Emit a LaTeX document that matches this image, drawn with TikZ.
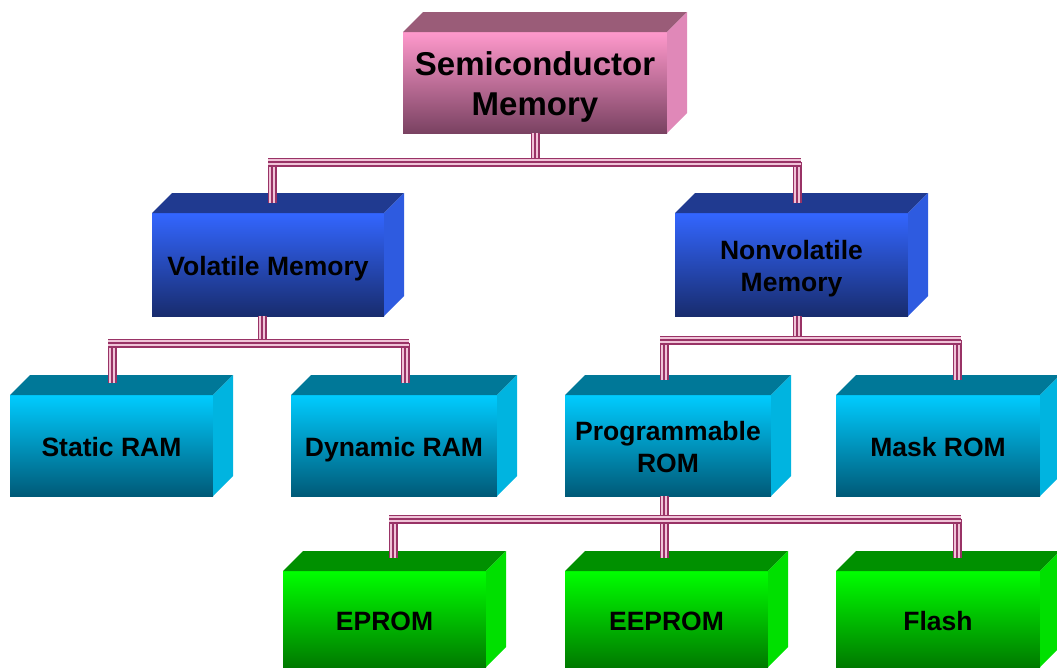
\documentclass[tikz,border=0pt]{standalone}
\usepackage{fontspec}
\setmainfont{Liberation Sans}
\usetikzlibrary{calc}
\definecolor{busdark}{HTML}{993366}
\definecolor{buslight}{HTML}{F0C4D8}
\definecolor{pinkA}{HTML}{FF99CC}
\definecolor{pinkB}{HTML}{C46E9C}
\definecolor{pinkC}{HTML}{7A4262}
\definecolor{pinkTop}{HTML}{9A5C78}
\definecolor{pinkSide}{HTML}{E088B8}
\definecolor{blueA}{HTML}{3366FF}
\definecolor{blueB}{HTML}{2E5AE4}
\definecolor{blueC}{HTML}{182C6E}
\definecolor{blueTop}{HTML}{203A90}
\definecolor{blueSide}{HTML}{2E5BE0}
\definecolor{cyanA}{HTML}{00CCFF}
\definecolor{cyanB}{HTML}{00A0CC}
\definecolor{cyanC}{HTML}{005A78}
\definecolor{cyanTop}{HTML}{007898}
\definecolor{cyanSide}{HTML}{00B4E0}
\definecolor{greenA}{HTML}{00FF00}
\definecolor{greenB}{HTML}{00D000}
\definecolor{greenC}{HTML}{007A00}
\definecolor{greenTop}{HTML}{009000}
\definecolor{greenSide}{HTML}{00E000}
\newcommand\cubefaces[3]{%
  \fill[#2] (#1.north west) -- ++(20,-20) -- ($(#1.north east)+(20,-20)$) -- (#1.north east) -- cycle;
  \fill[#3] (#1.north east) -- ++(20,-20) -- ($(#1.south east)+(20,-20)$) -- (#1.south east) -- cycle;
}
\newcommand\boxtext[1]{\raisebox{-5pt}[\height][\depth]{\begin{tabular}{@{}c@{}}#1\end{tabular}}}
\tikzset{
  front/.style={inner sep=0, outer sep=0, font=\bfseries\fontsize{26.5}{32}\selectfont},
  pinkfront/.style={front, top color=pinkA, middle color=pinkB, bottom color=pinkC, font=\bfseries\fontsize{33}{40}\selectfont},
  bluefront/.style={front, top color=blueA, middle color=blueB, bottom color=blueC},
  cyanfront/.style={front, top color=cyanA, middle color=cyanB, bottom color=cyanC},
  greenfront/.style={front, top color=greenA, middle color=greenB, bottom color=greenC},
  bus/.style={preaction={draw=busdark, line width=9pt}, draw=buslight, line width=5.4pt, postaction={draw=busdark, line width=2.2pt}},
}
\begin{document}
\begin{tikzpicture}[x=1pt, y=-1pt]
\useasboundingbox (0,0) rectangle (1057,667);
% boxes
\node[pinkfront, minimum width=264, minimum height=101] (semi) at (535,82.5) {\boxtext{Semiconductor\\Memory}};
\cubefaces{semi}{pinkTop}{pinkSide}
\node[bluefront, minimum width=232, minimum height=103] (vol) at (268,264.5) {\boxtext{Volatile Memory}};
\cubefaces{vol}{blueTop}{blueSide}
\node[bluefront, minimum width=233, minimum height=103] (non) at (791.5,264.5) {\boxtext{Nonvolatile\\Memory}};
\cubefaces{non}{blueTop}{blueSide}
\node[cyanfront, minimum width=203, minimum height=101] (sram) at (111.5,445.5) {\boxtext{Static RAM}};
\cubefaces{sram}{cyanTop}{cyanSide}
\node[cyanfront, minimum width=206, minimum height=101] (dram) at (394,445.5) {\boxtext{Dynamic RAM}};
\cubefaces{dram}{cyanTop}{cyanSide}
\node[cyanfront, minimum width=206, minimum height=101] (prom) at (668,445.5) {\boxtext{Programmable\\ROM}};
\cubefaces{prom}{cyanTop}{cyanSide}
\node[cyanfront, minimum width=204, minimum height=101] (mask) at (938,445.5) {\boxtext{Mask ROM}};
\cubefaces{mask}{cyanTop}{cyanSide}
\node[greenfront, minimum width=203, minimum height=96] (eprom) at (384.5,619) {\boxtext{EPROM}};
\cubefaces{eprom}{greenTop}{greenSide}
\node[greenfront, minimum width=203, minimum height=96] (eeprom) at (666.5,619) {\boxtext{EEPROM}};
\cubefaces{eeprom}{greenTop}{greenSide}
\node[greenfront, minimum width=204, minimum height=96] (flash) at (938,619) {\boxtext{Flash}};
\cubefaces{flash}{greenTop}{greenSide}
% connector points
\coordinate (semiB) at (semi.south);
\coordinate (volT) at ($(vol.north)+(4,-10)$);
\coordinate (nonT) at ($(non.north)+(5.5,-10)$);
\coordinate (volB) at ($(vol.south)+(-6,0)$);
\coordinate (nonB) at ($(non.south)+(5.5,0)$);
\coordinate (sramT) at ($(sram.north)+(0.5,-12)$);
\coordinate (dramT) at ($(dram.north)+(11,-12)$);
\coordinate (promT) at ($(prom.north)+(-4,-15)$);
\coordinate (maskT) at ($(mask.north)+(19,-15)$);
\coordinate (promB) at ($(prom.south)+(-4,0)$);
\coordinate (epromT) at ($(eprom.north)+(8.5,-13)$);
\coordinate (eepromT) at ($(eeprom.north)+(-2.5,-13)$);
\coordinate (flashT) at ($(flash.north)+(19,-13)$);
\coordinate (bus1) at ($(semiB)+(0,29)$);
\coordinate (bus2) at ($(volB)+(0,27)$);
\coordinate (bus3) at ($(nonB)+(0,24)$);
\coordinate (bus4) at ($(promB)+(0,23)$);
% level 1
\draw[bus] (semiB) -- (bus1);
\draw[bus] (volT) -- (volT |- bus1);
\draw[bus] (nonT) -- (nonT |- bus1);
\draw[bus] ($(volT |- bus1)+(-4,0)$) -- ($(nonT |- bus1)+(4,0)$);
% level 2 left
\draw[bus] (volB) -- (bus2);
\draw[bus] (sramT) -- (sramT |- bus2);
\draw[bus] (dramT) -- (dramT |- bus2);
\draw[bus] ($(sramT |- bus2)+(-4,0)$) -- ($(dramT |- bus2)+(4,0)$);
% level 2 right
\draw[bus] (nonB) -- (bus3);
\draw[bus] (promT) -- (promT |- bus3);
\draw[bus] (maskT) -- (maskT |- bus3);
\draw[bus] ($(promT |- bus3)+(-4,0)$) -- ($(maskT |- bus3)+(4,0)$);
% level 3
\draw[bus] (promB) -- (bus4);
\draw[bus] (epromT) -- (epromT |- bus4);
\draw[bus] (eepromT) -- (eepromT |- bus4);
\draw[bus] (flashT) -- (flashT |- bus4);
\draw[bus] ($(epromT |- bus4)+(-4,0)$) -- ($(flashT |- bus4)+(4,0)$);
\end{tikzpicture}
\end{document}
